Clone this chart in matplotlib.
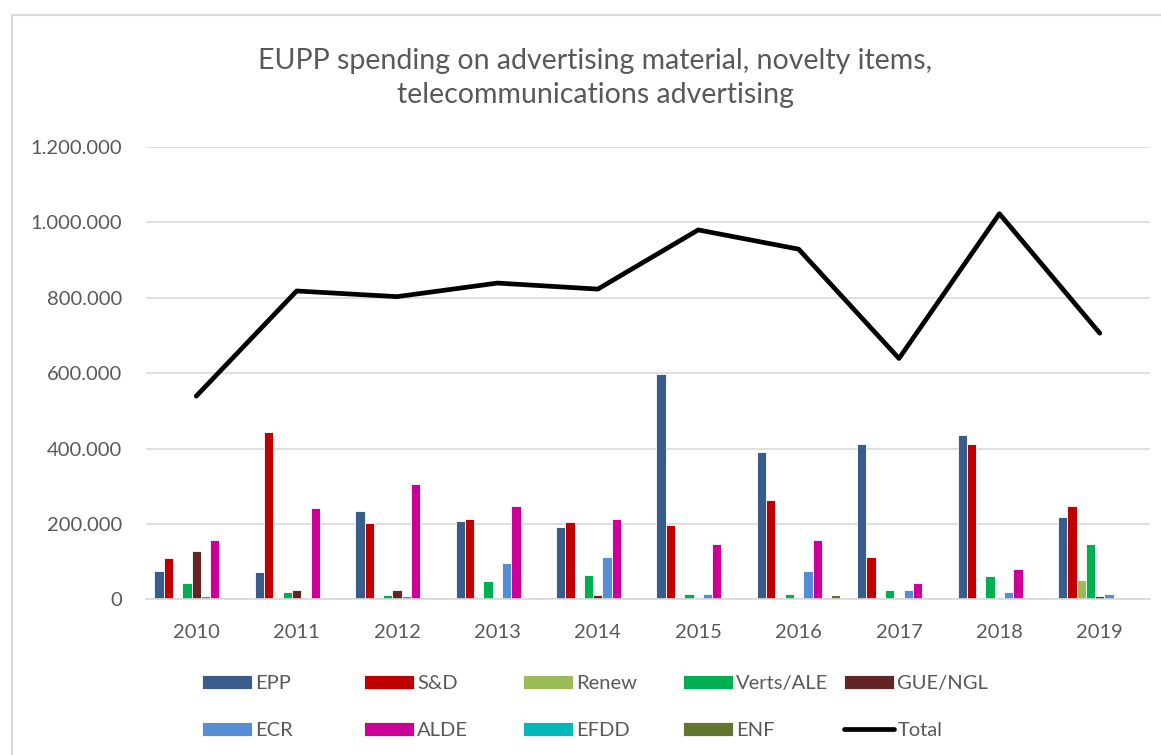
import numpy as np
import matplotlib
matplotlib.use("Agg")
import matplotlib.pyplot as plt
from matplotlib.lines import Line2D
from matplotlib.patches import Patch

# values in euro
years = ["2010", "2011", "2012", "2013", "2014", "2015", "2016", "2017", "2018", "2019"]
epp = [76000, 73000, 233000, 209000, 192000, 598000, 390000, 413000, 437000, 219000]
snd = [110000, 445000, 202000, 213000, 205000, 196000, 263000, 113000, 413000, 247000]
renew = [0, 0, 0, 0, 0, 0, 0, 0, 0, 52000]
verts = [42000, 19000, 11000, 49000, 65000, 14000, 14000, 25000, 62000, 148000]
gue = [128000, 25000, 25000, 0, 11000, 0, 0, 0, 0, 8000]
ecr = [8000, 0, 8000, 97000, 113000, 14000, 76000, 25000, 19000, 14000]
alde = [158000, 243000, 305000, 247000, 213000, 148000, 158000, 42000, 80000, 0]
efdd = [0, 0, 0, 4000, 0, 0, 0, 0, 0, 0]
enf = [0, 0, 0, 0, 0, 0, 11000, 0, 0, 0]
total = [539000, 818000, 803000, 839000, 823000, 980000, 929000, 639000, 1023000, 706000]

groups = ["EPP", "S&D", "Renew", "Verts/ALE", "GUE/NGL", "ECR", "ALDE", "EFDD", "ENF"]
series = [epp, snd, renew, verts, gue, ecr, alde, efdd, enf]
colors = ["#385D8A", "#C00000", "#9BBB59", "#00B050", "#632523",
          "#558ED5", "#CC0099", "#00B8B8", "#5F7530"]

plt.rcParams["font.family"] = ["Lato", "DejaVu Sans"]
text_col = "#595959"
grid_col = "#D9D9D9"

fig = plt.figure(figsize=(11.61, 7.55), dpi=100)
ax = fig.add_axes([0.1258, 0.2062, 0.8647, 0.5991])

x = np.arange(len(years))
w = 0.0925
for i, (vals, c) in enumerate(zip(series, colors)):
    ax.bar(x + (i - 4) * w, vals, width=w, color=c, edgecolor="white", linewidth=0.6, zorder=2)

ax.plot(x, total, color="black", linewidth=3.4, solid_joinstyle="round",
        solid_capstyle="round", zorder=3)

ax.set_xlim(-0.5, len(years) - 0.5)
ax.set_ylim(0, 1200000)
ax.set_yticks(np.arange(0, 1200001, 200000))
ax.set_yticklabels(["0" if v == 0 else f"{v:,}".replace(",", ".") for v in range(0, 1200001, 200000)])
ax.set_xticks(x)
ax.set_xticklabels(years)
ax.tick_params(axis="both", length=0, labelsize=14.5, labelcolor=text_col)
ax.tick_params(axis="y", pad=17)
ax.tick_params(axis="x", pad=18)

ax.yaxis.grid(True, color=grid_col, linewidth=1.2, zorder=0)
ax.set_axisbelow(True)
for s in ["top", "right", "left"]:
    ax.spines[s].set_visible(False)
ax.spines["bottom"].set_color(grid_col)
ax.spines["bottom"].set_linewidth(1.2)

fig.text(595.5 / 1161, 1 - 78 / 755,
         "EUPP spending on advertising material, novelty items,\ntelecommunications advertising",
         ha="center", va="center", fontsize=20.5, color=text_col, linespacing=1.35)

# chart border (top and left edge visible)
fig.add_artist(Line2D([12 / 1161, 12 / 1161], [0, 1 - 15 / 755], color=grid_col, lw=1.5))
fig.add_artist(Line2D([12 / 1161, 1], [1 - 15 / 755, 1 - 15 / 755], color=grid_col, lw=1.5))

# legend: five columns of two entries, placed like the Excel legend
handles = [Patch(facecolor=c, edgecolor="white", linewidth=0.6) for c in colors]
handles.append(Line2D([0], [0], color="black", linewidth=3.4, solid_capstyle="round"))
labels = groups + ["Total"]
col_x = [202, 364, 523, 683, 844]
for j in range(5):
    leg = fig.legend([handles[j], handles[j + 5]], [labels[j], labels[j + 5]],
                     loc="upper left", bbox_to_anchor=(col_x[j] / 1161, 1 - 675 / 755),
                     frameon=False, fontsize=14.5, handlelength=2.5, handleheight=0.65,
                     handletextpad=0.15, labelspacing=1.5, borderpad=0, borderaxespad=0)
    for t in leg.get_texts():
        t.set_color(text_col)

fig.savefig("out.png", dpi=100)
